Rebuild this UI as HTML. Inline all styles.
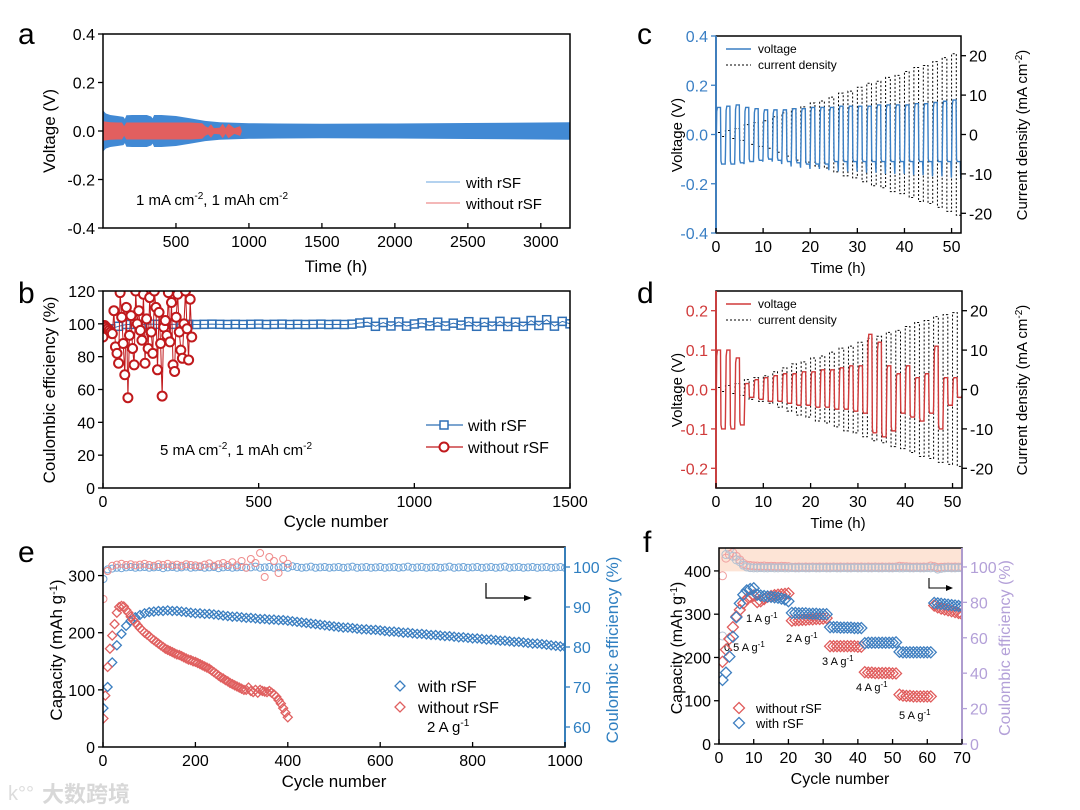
<!DOCTYPE html>
<html><head><meta charset="utf-8"><style>
html,body{margin:0;padding:0;background:#fff;}
svg{display:block;font-family:"Liberation Sans","Noto Sans CJK SC",sans-serif;}
</style></head><body>
<svg id="fig" width="1080" height="810" viewBox="0 0 1080 810">
<defs>
<clipPath id="ca"><rect x="103" y="34" width="467" height="194"/></clipPath>
<clipPath id="cb"><rect x="103" y="291" width="467" height="197"/></clipPath>
<clipPath id="cc"><rect x="716" y="36" width="245" height="197"/></clipPath>
<clipPath id="cd"><rect x="716" y="291" width="246" height="197"/></clipPath>
<clipPath id="ce"><rect x="103" y="547" width="462" height="200"/></clipPath>
<clipPath id="cf"><rect x="719" y="548" width="243" height="196"/></clipPath>
</defs>
<g font-size="30">
<text x="18" y="44">a</text>
<text x="18" y="303">b</text>
<text x="637" y="44">c</text>
<text x="637" y="303">d</text>
<text x="18" y="562">e</text>
<text x="643" y="552">f</text>
</g>
<g font-size="17">
<text transform="translate(55,131) rotate(-90)" text-anchor="middle">Voltage (V)</text>
<text x="336" y="272" text-anchor="middle">Time (h)</text>
<text transform="translate(55,390) rotate(-90)" text-anchor="middle">Coulombic efficiency (%)</text>
<text x="336" y="527" text-anchor="middle">Cycle number</text>
<text transform="translate(682,135) rotate(-90)" text-anchor="middle" font-size="15">Voltage (V)</text>
<text transform="translate(1027,135) rotate(-90)" text-anchor="middle" font-size="15">Current density (mA cm<tspan dy="-5" font-size="10">-2</tspan><tspan dy="5">)</tspan></text>
<text x="838" y="273" text-anchor="middle" font-size="15">Time (h)</text>
<text transform="translate(682,390) rotate(-90)" text-anchor="middle" font-size="15">Voltage (V)</text>
<text transform="translate(1027,390) rotate(-90)" text-anchor="middle" font-size="15">Current density (mA cm<tspan dy="-5" font-size="10">-2</tspan><tspan dy="5">)</tspan></text>
<text x="838" y="528" text-anchor="middle" font-size="15">Time (h)</text>
<text transform="translate(62,650) rotate(-90)" text-anchor="middle">Capacity (mAh g<tspan dy="-5" font-size="11">-1</tspan><tspan dy="5">)</tspan></text>
<text transform="translate(618,650) rotate(-90)" text-anchor="middle" fill="#2f7fc1">Coulombic efficiency (%)</text>
<text x="334" y="787" text-anchor="middle">Cycle number</text>
<text transform="translate(682,648) rotate(-90)" text-anchor="middle" font-size="16">Capacity (mAh g<tspan dy="-5" font-size="10">-1</tspan><tspan dy="5">)</tspan></text>
<text transform="translate(1010,648) rotate(-90)" text-anchor="middle" font-size="16" fill="#b3a0d8">Coulombic efficiency (%)</text>
<text x="840" y="784" text-anchor="middle" font-size="16">Cycle number</text>
</g>
<g font-size="15">
<text x="136" y="205">1 mA cm<tspan dy="-6" font-size="10">-2</tspan><tspan dy="6">, 1 mAh cm</tspan><tspan dy="-6" font-size="10">-2</tspan></text>
<text x="160" y="455">5 mA cm<tspan dy="-6" font-size="10">-2</tspan><tspan dy="6">, 1 mAh cm</tspan><tspan dy="-6" font-size="10">-2</tspan></text>
<text x="427" y="732">2 A g<tspan dy="-6" font-size="10">-1</tspan></text>
</g>
<g font-size="11">
<text x="724" y="651">0.5 A g<tspan dy="-4" font-size="8">-1</tspan></text>
<text x="746" y="622">1 A g<tspan dy="-4" font-size="8">-1</tspan></text>
<text x="786" y="642">2 A g<tspan dy="-4" font-size="8">-1</tspan></text>
<text x="822" y="665">3 A g<tspan dy="-4" font-size="8">-1</tspan></text>
<text x="856" y="691">4 A g<tspan dy="-4" font-size="8">-1</tspan></text>
<text x="899" y="719">5 A g<tspan dy="-4" font-size="8">-1</tspan></text>
</g>
<text x="42" y="802" font-size="22" fill="#d8d8d8" font-weight="bold">大数跨境</text>
<text x="8" y="800" font-size="20" fill="#dcdcdc">k°°</text>
</svg>
<script>
// ---------- DATA ----------
const aTime=[0,20,50,100,140,150,160,200,300,330,340,350,400,500,600,700,800,900,1000,1200,1500,2000,2500,3000,3200];
const aBlueAmp=[0.085,0.072,0.066,0.062,0.058,0.05,0.065,0.066,0.066,0.06,0.052,0.066,0.066,0.062,0.052,0.042,0.036,0.034,0.032,0.031,0.03,0.031,0.033,0.035,0.036];
const aRedTime=[0,50,100,130,145,160,200,300,400,500,600,680,700,720,740,760,800,820,840,860,900,940,950];
const aRedAmp=[0.04,0.036,0.035,0.035,0.02,0.035,0.035,0.035,0.035,0.035,0.035,0.032,0.02,0.014,0.028,0.012,0.014,0.03,0.012,0.03,0.012,0.02,0.004];
const aYTicks=[-0.4,-0.2,0,0.2,0.4];
const aYLabels=['-0.4','-0.2','0.0','0.2','0.4'];
const aXTicks=[500,1000,1500,2000,2500,3000];
const bWithStep=25;
const bWith=[98,97,98.5,99.6,99.7,99.6,99.8,99.7,99.6,99.7,99.8,99.7,99.6,99.7,99.8,99.7,99.6,99.7,99.6,99.7,99.8,99.6,99.7,99.8,99.6,99.7,99.6,99.7,99.8,99.6,99.7,99.6,99.8,100.5,101,98.5,100.8,98.7,101.2,98.6,99.9,100.6,98.8,101,98.7,100.4,99.2,101.3,98.5,100.9,98.6,101.5,98.4,101,98.5,102,99,102.5,98.6,101.5,100];
const bNoCyc=[0,5,10,15,20,25,30,35,40,45,50,55,60,65,70,75,80,85,90,95,100,105,110,115,120,125,130,135,140,145,150,155,160,165,170,175,180,185,190,195,200,205,210,215,220,225,230,235,240,245,250,255,260,265,270,275,280,285];
const bNo=[92,99,98,97,96,95,94,108,86,82,76,119,104,88,69,110,55,93,105,85,75,120,100,108,96,90,118,76,103,85,116,95,82,120,110,72,107,88,56,98,102,93,119,89,113,75,71,104,118,95,84,79,100,120,97,78,115,92];
const bYTicks=[0,20,40,60,80,100,120];
const bXTicks=[0,500,1000,1500];
const cAmp=[0.5,1,1.5,2.5,3,3.5,4.5,5.5,6.5,7,8,8.5,9.5,10.5,11,12,13,13.5,14.5,15,16,17,17.5,18.5,19.5,20.5];
const cHi=[0.11,0.115,0.12,0.11,0.105,0.1,0.1,0.1,0.105,0.105,0.11,0.11,0.11,0.115,0.115,0.115,0.115,0.12,0.12,0.12,0.12,0.125,0.125,0.13,0.135,0.14];
const cLo=[-0.12,-0.12,-0.115,-0.11,-0.105,-0.1,-0.105,-0.11,-0.115,-0.12,-0.12,-0.12,-0.11,-0.11,-0.11,-0.11,-0.11,-0.11,-0.11,-0.11,-0.11,-0.11,-0.11,-0.11,-0.11,-0.11];
const cSpike=[-0.12,-0.12,-0.12,-0.11,-0.11,-0.11,-0.12,-0.13,-0.135,-0.14,-0.14,-0.145,-0.15,-0.15,-0.15,-0.155,-0.155,-0.16,-0.16,-0.16,-0.165,-0.165,-0.17,-0.17,-0.175,-0.18];
const dAmp=[0.5,1,1.5,2.5,3,3.5,4.5,5.5,6.5,7,8,8.5,9.5,10.5,11,12,13,13.5,14.5,15,16,17,17.5,18.5,19,19.5];
const dHi=[0.1,0.1,0.08,0.015,0.025,0.03,0.035,0.04,0.04,0.045,0.045,0.05,0.05,0.055,0.06,0.06,0.14,0.12,0.06,0.04,0.06,0.03,0.04,0.11,0.03,0.03];
const dLo=[-0.1,-0.1,-0.09,-0.02,-0.025,-0.03,-0.03,-0.035,-0.04,-0.04,-0.045,-0.045,-0.05,-0.05,-0.055,-0.06,-0.11,-0.12,-0.105,-0.06,-0.07,-0.08,-0.06,-0.1,-0.04,-0.02];
const cdXTicks=[0,10,20,30,40,50];
const cYTicks=[-0.4,-0.2,0,0.2,0.4];
const cYLabels=['-0.4','-0.2','0.0','0.2','0.4'];
const dYTicks=[-0.2,-0.1,0,0.1,0.2];
const dYLabels=['-0.2','-0.1','0.0','0.1','0.2'];
const cdY2Ticks=[-20,-10,0,10,20];
const eCycW=[1,10,20,30,40,50,60,70,80,90,100,110,120,130,140,150,160,170,180,190,200,210,220,230,240,250,260,270,280,290,300,310,320,330,340,350,360,370,380,390,400,410,420,430,440,450,460,470,480,490,500,510,520,530,540,550,560,570,580,590,600,610,620,630,640,650,660,670,680,690,700,710,720,730,740,750,760,770,780,790,800,810,820,830,840,850,860,870,880,890,900,910,920,930,940,950,960,970,980,990,1000];
const eCapW=[68,105,148,178,198,212,221,227,231,234,236,237,238,238,239,238,238,237,236,235,234,234,233,233,232,231,230,229,228,228,227,226,226,225,224,224,223,223,222,222,221,220,219,218,217,216,215,214,213,212,211,210,209,209,208,207,206,206,205,205,204,203,202,202,201,200,200,199,198,198,197,196,196,195,194,194,193,192,192,191,190,190,189,188,188,187,186,186,185,184,184,183,182,181,181,180,179,178,177,176,175];
const eCEW=[97,99.4,99.6,99.8,99.7,99.9,100,99.8,99.9,100,99.8,99.9,100,99.7,99.9,100,99.8,99.9,100.1,99.8,99.9,100,99.8,99.9,100,99.7,99.9,100,99.8,99.9,100,99.8,99.9,100.1,99.8,99.9,100,99.8,99.9,100,99.8,100.2,100,99.8,99.9,100.1,99.8,99.9,100,99.8,99.9,100,99.8,99.9,100.1,99.8,99.9,100,99.8,99.9,100,99.8,99.9,100,99.8,99.9,100.1,99.8,99.9,100,99.8,99.9,100,99.8,99.9,100.1,99.8,99.9,100,99.8,99.9,100,99.8,99.9,100,99.8,99.9,100.1,99.8,99.9,100,99.8,99.9,100,99.8,99.9,100,99.8,99.9,100,99.8];
const eCycN=[1,5,10,15,20,25,30,35,40,45,50,55,60,65,70,75,80,85,90,95,100,105,110,115,120,125,130,135,140,145,150,155,160,165,170,175,180,185,190,195,200,205,210,215,220,225,230,235,240,245,250,255,260,265,270,275,280,285,290,295,300,305,310,315,320,325,330,335,340,345,350,355,360,365,370,375,380,385,390,395,400];
const eCapN=[50,90,140,172,195,215,235,245,247,246,240,235,228,222,218,213,208,204,200,197,194,190,187,184,181,178,175,172,170,168,166,164,162,161,159,157,155,153,152,150,149,147,145,143,141,139,137,134,131,128,125,122,120,117,115,112,110,108,106,104,102,100,100,104,98,96,100,95,100,98,97,96,98,95,92,88,82,76,68,60,52];
const eCycNCE=[1,10,20,30,40,50,60,70,80,90,100,110,120,130,140,150,160,170,180,190,200,210,220,230,240,250,260,270,280,290,300,310,320,330,340,350,360,370,380,390,400];
const eCEN=[92,99,100.3,100.6,100.8,100.5,100.7,100.4,100.6,100.8,100.5,100.3,100.7,100.5,100.8,100.4,100.6,100.3,100.7,100.5,100.4,100.2,100.6,100.9,100.3,100.7,101,100.5,101.2,100.4,101.5,99.8,102,101,103.5,97.5,102.5,101.5,98.5,102,100.8];
const eYTicks=[0,100,200,300];
const eY2Ticks=[60,70,80,90,100];
const eXTicks=[0,200,400,600,800,1000];
const fCyc=[1,2,3,4,5,6,7,8,9,10,11,12,13,14,15,16,17,18,19,20,21,22,23,24,25,26,27,28,29,30,31,32,33,34,35,36,37,38,39,40,41,42,43,44,45,46,47,48,49,50,51,52,53,54,55,56,57,58,59,60,61,62,63,64,65,66,67,68,69,70];
const fWith=[148,165,202,248,293,325,345,355,358,360,345,343,342,341,340,339,338,336,334,330,303,303,302,302,302,301,301,301,300,300,300,270,270,270,269,269,269,269,268,268,268,233,234,234,234,234,234,234,234,234,235,213,212,212,212,212,212,212,212,212,212,326,325,324,323,322,321,320,319,318];
const fNo=[190,218,243,270,295,310,325,335,340,343,328,330,335,340,342,344,345,346,347,348,285,286,286,287,287,288,288,289,289,290,291,226,226,226,226,226,226,226,226,225,225,166,165,165,164,164,164,164,164,163,163,114,112,111,111,110,110,110,110,110,110,320,316,313,311,309,307,305,303,300,298];
const fCEWith=[61,107,110,106,104,103,101,100,99.6,99.5,99.5,99.6,99.5,99.5,99.6,99.5,99.5,99.6,99.5,99.5,99.6,99.5,99.5,99.6,99.5,99.5,99.6,99.5,99.5,99.6,99.5,99.5,99.6,99.5,99.5,99.6,99.5,99.5,99.6,99.5,99.5,99.6,99.5,99.5,99.6,99.5,99.5,99.6,99.5,99.5,99.6,99.5,99.5,99.6,99.5,99.5,99.6,99.5,99.5,99.6,99.5,99.7,98.8,99.2,99.5,99.6,99.5,99.5,99.6,99.5];
const fCENo=[95,105,107,108,106,104,102,101,100.8,100.6,100.5,100.4,100.5,100.3,100.4,100.3,100.2,100.4,100.3,100.2,99.8,99.9,100,99.9,100,99.9,100,99.9,100,99.9,100,99.9,100,99.9,100,99.9,100,99.9,100,99.9,100,99.9,100,99.9,100,99.9,100,99.9,100,99.9,100,100.4,100.2,100.1,100,99.9,100,99.9,100,99.9,100.5,100.2,99.6,99.8,99.9,100,99.9,100,99.9,100];
const fYTicks=[0,100,200,300,400];
const fY2Ticks=[0,20,40,60,80,100];
const fXTicks=[0,10,20,30,40,50,60,70];

// ---------- HELPERS ----------
const NS='http://www.w3.org/2000/svg';
const svg=document.getElementById('fig');
function mk(parent,tag,attrs,name){
  const el=document.createElementNS(NS,tag);
  for(const k in attrs) el.setAttribute(k,attrs[k]);
  
  
  parent.appendChild(el);
  return el;
}
function sc(d0,d1,r0,r1){return v=>r0+(v-d0)/(d1-d0)*(r1-r0);}
function txt(parent,x,y,s,anchor,size,color,name){
  const t=mk(parent,'text',{x:x,y:y,'text-anchor':anchor,'font-size':size,fill:color||'#000'},name);
  t.textContent=s; return t;
}
function yAxis(g,sy,vals,labels,x,side,color,prefix){
  vals.forEach((v,i)=>{
    mk(g,'line',{x1:x,y1:sy(v),x2:x+side*5,y2:sy(v),stroke:color,'stroke-width':1.3},prefix+'-tick');
    txt(g,x+side*8,sy(v)+6,labels?labels[i]:String(v),side<0?'end':'start',16,color,prefix+'-tick-label');
  });
}
function xAxis(g,sx,vals,y,size,prefix){
  vals.forEach(v=>{
    mk(g,'line',{x1:sx(v),y1:y,x2:sx(v),y2:y-5,stroke:'#000','stroke-width':1.3},prefix+'-tick');
    txt(g,sx(v),y+19,String(v),'middle',size,'#000',prefix+'-tick-label');
  });
}
function box(g,x0,y0,x1,y1,name){
  mk(g,'rect',{x:x0,y:y0,width:x1-x0,height:y1-y0,fill:'none',stroke:'#000','stroke-width':1.5},name);
}
function diamond(g,x,y,s,color,name){
  mk(g,'path',{d:`M${x},${y-s}L${x+s},${y}L${x},${y+s}L${x-s},${y}Z`,fill:'none',stroke:color,'stroke-width':1.3},name);
}

// ---------- PANEL A ----------
(function(){
  const g=mk(svg,'g',{},'panel-a');
  const sx=sc(0,3200,103,570), sy=sc(-0.4,0.4,228,34);
  const d=mk(g,'g',{'clip-path':'url(#ca)'},'a-plot-area');
  let top=aTime.map((t,i)=>`${sx(t)},${sy(aBlueAmp[i])}`);
  let bot=aTime.map((t,i)=>`${sx(t)},${sy(-aBlueAmp[i])}`).reverse();
  mk(d,'polygon',{points:top.concat(bot).join(' '),fill:'#4189d4'},'a-with-rsf-band');
  top=aRedTime.map((t,i)=>`${sx(t)},${sy(aRedAmp[i])}`);
  bot=aRedTime.map((t,i)=>`${sx(t)},${sy(-aRedAmp[i])}`).reverse();
  mk(d,'polygon',{points:top.concat(bot).join(' '),fill:'#e25f5f'},'a-without-rsf-band');
  mk(d,'line',{x1:sx(0),y1:sy(0),x2:sx(950),y2:sy(0),stroke:'#e25f5f','stroke-width':2},'a-without-rsf-center');
  box(g,103,34,570,228,'a-plot-frame');
  yAxis(g,sy,aYTicks,aYLabels,103,-1,'#000','a-y');
  xAxis(g,sx,aXTicks,228,16,'a-x');
  mk(g,'line',{x1:426,y1:182,x2:460,y2:182,stroke:'#9cc4ea','stroke-width':1.5},'a-legend-with-line');
  txt(g,466,188,'with rSF','start',15,'#000','a-legend-with-label');
  mk(g,'line',{x1:426,y1:203,x2:460,y2:203,stroke:'#f0a0a0','stroke-width':1.5},'a-legend-without-line');
  txt(g,466,209,'without rSF','start',15,'#000','a-legend-without-label');
})();

// ---------- PANEL B ----------
(function(){
  const g=mk(svg,'g',{},'panel-b');
  const sx=sc(0,1500,103,570), sy=sc(0,120,488,291);
  const d=mk(g,'g',{'clip-path':'url(#cb)'},'b-plot-area');
  mk(d,'polyline',{points:bWith.map((v,i)=>`${sx(i*bWithStep)},${sy(v)}`).join(' '),fill:'none',stroke:'#2f6fb5','stroke-width':1},'b-with-rsf-line');
  bWith.forEach((v,i)=>{
    mk(d,'rect',{x:sx(i*bWithStep)-4,y:sy(v)-4,width:8,height:8,fill:'none',stroke:'#2f6fb5','stroke-width':1.5},'b-with-rsf-point');
  });
  mk(d,'polyline',{points:bNoCyc.map((c,i)=>`${sx(c)},${sy(bNo[i])}`).join(' '),fill:'none',stroke:'#c0191c','stroke-width':1},'b-without-rsf-line');
  bNoCyc.forEach((c,i)=>{
    mk(d,'circle',{cx:sx(c),cy:sy(bNo[i]),r:4.5,fill:'#fff',stroke:'#c0191c','stroke-width':2},'b-without-rsf-point');
  });
  box(g,103,291,570,488,'b-plot-frame');
  yAxis(g,sy,bYTicks,null,103,-1,'#000','b-y');
  xAxis(g,sx,bXTicks,488,16,'b-x');
  mk(g,'line',{x1:426,y1:425,x2:463,y2:425,stroke:'#2f6fb5','stroke-width':1.3},'b-legend-with-line');
  mk(g,'rect',{x:440,y:421,width:8,height:8,fill:'#fff',stroke:'#2f6fb5','stroke-width':1.5},'b-legend-with-marker');
  txt(g,468,431,'with rSF','start',16,'#000','b-legend-with-label');
  mk(g,'line',{x1:426,y1:447,x2:463,y2:447,stroke:'#c0191c','stroke-width':1.3},'b-legend-without-line');
  mk(g,'circle',{cx:444,cy:447,r:4.5,fill:'#fff',stroke:'#c0191c','stroke-width':2},'b-legend-without-marker');
  txt(g,468,453,'without rSF','start',16,'#000','b-legend-without-label');
})();

// ---------- PANELS C & D ----------
function cyclePanel(p){
  const g=mk(svg,'g',{},'panel-'+p.id);
  const sx=sc(0,52,p.x0,p.x1), sy=sc(p.vmin,p.vmax,p.y1,p.y0), sy2=sc(-25,25,p.y1,p.y0);
  const d=mk(g,'g',{'clip-path':`url(#${p.clip})`},p.id+'-plot-area');
  let pts=[[sx(0),sy2(0)]];
  p.amp.forEach((a,k)=>{
    const t=2*k;
    pts.push([sx(t),sy2(a)],[sx(t+1),sy2(a)],[sx(t+1),sy2(-a)],[sx(t+2),sy2(-a)]);
  });
  mk(d,'polyline',{points:pts.map(q=>q.join(',')).join(' '),fill:'none',stroke:'#000','stroke-width':1,'stroke-dasharray':'2,2'},p.id+'-current-density-line');
  let v=[[sx(0),sy(p.lo[0])]];
  p.hi.forEach((h,k)=>{
    const t=2*k, lo=p.lo[k], sp=p.spike?p.spike[k]:lo;
    v.push([sx(t+0.15),sy(h*0.85)],[sx(t+0.3),sy(h)],[sx(t+0.95),sy(h)],[sx(t+1.05),sy(lo*0.9)],[sx(t+1.2),sy(lo)],[sx(t+1.85),sy(lo)],[sx(t+1.95),sy(sp)],[sx(t+2),sy(sp*0.7)]);
  });
  mk(d,'polyline',{points:v.map(q=>q.join(',')).join(' '),fill:'none',stroke:p.color,'stroke-width':1.4},p.id+'-voltage-line');
  box(g,p.x0,p.y0,p.x1,p.y1,p.id+'-plot-frame');
  mk(g,'line',{x1:p.x0,y1:p.y0,x2:p.x0,y2:p.y1,stroke:p.color,'stroke-width':1.8},p.id+'-left-axis');
  yAxis(g,sy,p.yt,p.yl,p.x0,-1,p.color,p.id+'-y');
  yAxis(g,sy2,cdY2Ticks,null,p.x1,1,'#000',p.id+'-y2');
  xAxis(g,sx,cdXTicks,p.y1,16,p.id+'-x');
  mk(g,'line',{x1:p.x0+10,y1:p.y0+13,x2:p.x0+35,y2:p.y0+13,stroke:p.color,'stroke-width':1.5},p.id+'-legend-voltage-line');
  txt(g,p.x0+42,p.y0+17,'voltage','start',12,'#000',p.id+'-legend-voltage-label');
  mk(g,'line',{x1:p.x0+10,y1:p.y0+29,x2:p.x0+35,y2:p.y0+29,stroke:'#000','stroke-width':1,'stroke-dasharray':'2,2'},p.id+'-legend-current-line');
  txt(g,p.x0+42,p.y0+33,'current density','start',12,'#000',p.id+'-legend-current-label');
}
cyclePanel({id:'c',clip:'cc',x0:716,x1:961,y0:36,y1:233,vmin:-0.4,vmax:0.4,amp:cAmp,hi:cHi,lo:cLo,spike:cSpike,color:'#3a7fc4',yt:cYTicks,yl:cYLabels});
cyclePanel({id:'d',clip:'cd',x0:716,x1:962,y0:291,y1:488,vmin:-0.25,vmax:0.25,amp:dAmp,hi:dHi,lo:dLo,spike:null,color:'#d03a3a',yt:dYTicks,yl:dYLabels});

// ---------- PANEL E ----------
(function(){
  const g=mk(svg,'g',{},'panel-e');
  const sx=sc(0,1000,103,565), sy=sc(0,350,747,547), sy2=sc(55,105,747,547);
  const d=mk(g,'g',{'clip-path':'url(#ce)'},'e-plot-area');
  eCycW.forEach((c,i)=>{
    mk(d,'circle',{cx:sx(c),cy:sy2(eCEW[i]),r:3.5,fill:'none',stroke:'#6fa5d8','stroke-width':1},'e-with-rsf-ce-point');
  });
  eCycNCE.forEach((c,i)=>{
    mk(d,'circle',{cx:sx(c),cy:sy2(eCEN[i]),r:3.5,fill:'none',stroke:'#ef8c8c','stroke-width':1},'e-without-rsf-ce-point');
  });
  eCycW.forEach((c,i)=>{diamond(d,sx(c),sy(eCapW[i]),4.5,'#3a7ec0','e-with-rsf-capacity-point');});
  eCycN.forEach((c,i)=>{diamond(d,sx(c),sy(eCapN[i]),4.5,'#e06060','e-without-rsf-capacity-point');});
  box(g,103,547,565,747,'e-plot-frame');
  mk(g,'line',{x1:565,y1:547,x2:565,y2:747,stroke:'#2f7fc1','stroke-width':1.8},'e-right-axis');
  yAxis(g,sy,eYTicks,null,103,-1,'#000','e-y');
  yAxis(g,sy2,eY2Ticks,null,565,1,'#2f7fc1','e-y2');
  xAxis(g,sx,eXTicks,747,16,'e-x');
  mk(g,'path',{d:'M486,583V598H526',fill:'none',stroke:'#000','stroke-width':1.2},'e-axis-arrow');
  mk(g,'path',{d:'M532,598L524,595L524,601Z',fill:'#000'},'e-axis-arrowhead');
  diamond(g,400,686,5,'#3a7ec0','e-legend-with-marker');
  txt(g,418,692,'with rSF','start',16,'#000','e-legend-with-label');
  diamond(g,400,707,5,'#e06060','e-legend-without-marker');
  txt(g,418,713,'without rSF','start',16,'#000','e-legend-without-label');
})();

// ---------- PANEL F ----------
(function(){
  const g=mk(svg,'g',{},'panel-f');
  const sx=sc(0,70,719,962), sy=sc(0,453,744,548), sy2=sc(0,110.7,744,548);
  const d=mk(g,'g',{'clip-path':'url(#cf)'},'f-plot-area');
  mk(d,'rect',{x:719,y:548,width:243,height:sy2(97.5)-548,fill:'#fde4d6'},'f-ce-shaded-band');
  fCyc.forEach((c,i)=>{
    mk(d,'circle',{cx:sx(c),cy:sy2(fCENo[i]),r:4,fill:'none',stroke:'#f0a0a0','stroke-width':1},'f-without-rsf-ce-point');
  });
  fCyc.forEach((c,i)=>{
    mk(d,'circle',{cx:sx(c),cy:sy2(fCEWith[i]),r:4,fill:'none',stroke:'#b5c2d2','stroke-width':1},'f-with-rsf-ce-point');
  });
  fCyc.forEach((c,i)=>{if(fNo[i]!==undefined) diamond(d,sx(c),sy(fNo[i]),5.5,'#e05c5c','f-without-rsf-capacity-point');});
  fCyc.forEach((c,i)=>{diamond(d,sx(c),sy(fWith[i]),5.5,'#3f7fc0','f-with-rsf-capacity-point');});
  box(g,719,548,962,744,'f-plot-frame');
  mk(g,'line',{x1:962,y1:548,x2:962,y2:744,stroke:'#b3a0d8','stroke-width':1.8},'f-right-axis');
  yAxis(g,sy,fYTicks,null,719,-1,'#000','f-y');
  yAxis(g,sy2,fY2Ticks,null,962,1,'#b3a0d8','f-y2');
  xAxis(g,sx,fXTicks,744,16,'f-x');
  mk(g,'path',{d:'M929,578V588H948',fill:'none',stroke:'#000','stroke-width':1.1},'f-axis-arrow');
  mk(g,'path',{d:'M953,588L946,585L946,591Z',fill:'#000'},'f-axis-arrowhead');
  diamond(g,739,708,5.5,'#e05c5c','f-legend-without-marker');
  txt(g,756,713,'without rSF','start',13,'#000','f-legend-without-label');
  diamond(g,739,723,5.5,'#3f7fc0','f-legend-with-marker');
  txt(g,756,728,'with rSF','start',13,'#000','f-legend-with-label');
})();
</script>
</body></html>
